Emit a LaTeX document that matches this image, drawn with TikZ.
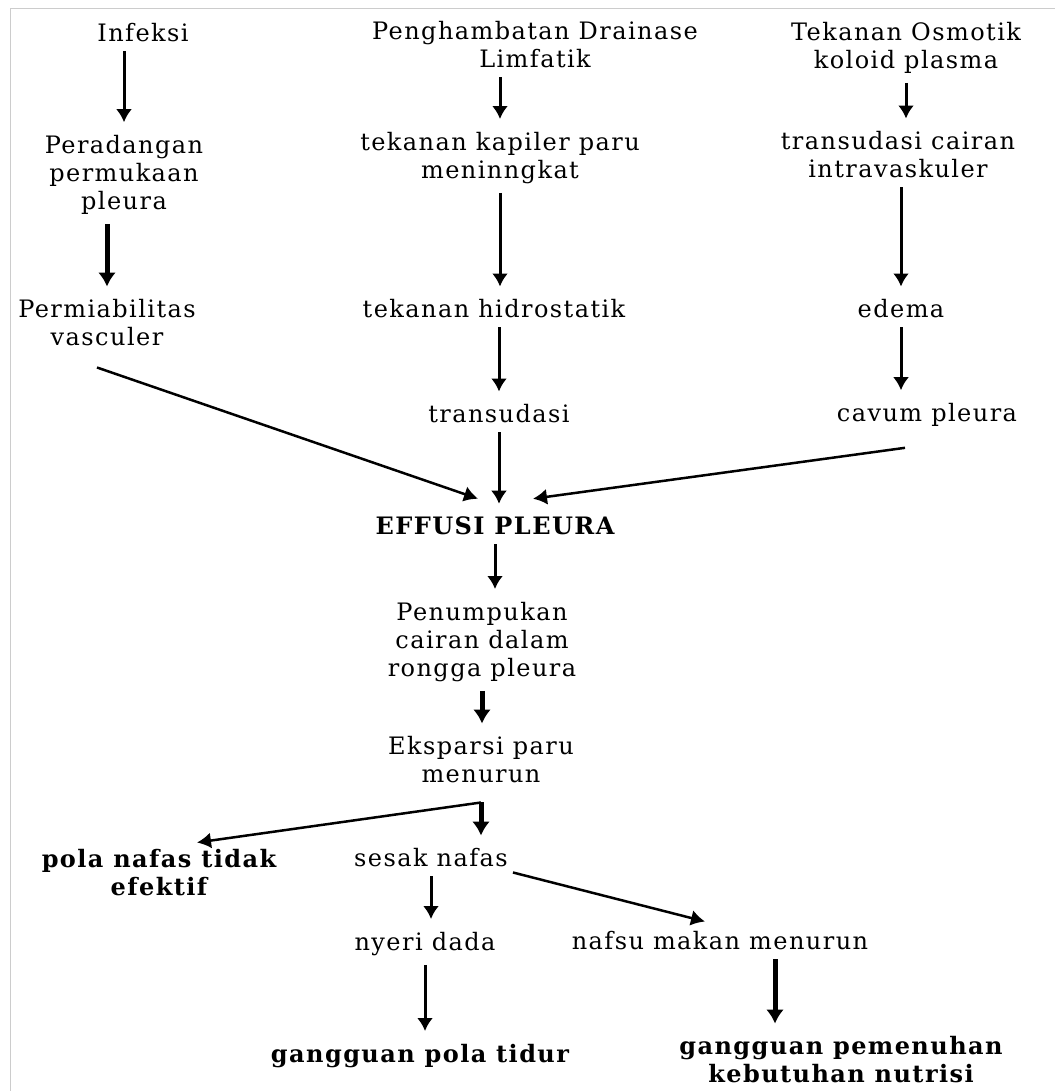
\documentclass[tikz,border=0pt]{standalone}
\usepackage{fontspec}
\setmainfont[LetterSpace=6]{DejaVu Serif}
\usetikzlibrary{arrows.meta}

\begin{document}
\begin{tikzpicture}[x=1pt, y=-1pt, t/.style={align=center, inner sep=5pt, font=\fontsize{24}{28}\selectfont}, b/.style={t, font=\fontsize{24}{28}\selectfont\bfseries}, n/.style={-{Latex[length=13pt, width=16pt]}, line width=3pt, shorten >=8pt, shorten <=4pt}, w/.style={-{Latex[length=14pt, width=18pt]}, line width=5pt, shorten >=8pt, shorten <=4pt}, d/.style={-{Latex[length=14pt, width=16pt]}, line width=2.5pt}]
        \useasboundingbox (0,0) rectangle (1055,1091);
        \draw[black!20, line width=1pt] (10,1091) -- (10,9) -- (1055,9);
        % nodes
        \node[t] (inf) at (143,33) {Infeksi};
        \node[t] (per) at (124,175) {Peradangan\\permukaan\\pleura};
        \node[t] (perm) at (107,323) {Permiabilitas\\vasculer};
        \node[t] (pdl) at (535,45) {Penghambatan Drainase\\Limfatik};
        \node[t] (tkp) at (500,158) {tekanan kapiler paru\\meninngkat};
        \node[t] (thid) at (494,309) {tekanan hidrostatik};
        \node[t] (trans) at (499,414) {transudasi};
        \node[t] (tom) at (906,48) {Tekanan Osmotik\\koloid plasma};
        \node[t] (tci) at (898,155) {transudasi cairan\\intravaskuler};
        \node[t] (ede) at (901,309) {edema};
        \node[t] (cav) at (927,415) {cavum pleura};
        \node[b] (eff) at (495,526) {EFFUSI PLEURA};
        \node[t] (pen) at (482,642) {Penumpukan\\cairan dalam\\rongga pleura};
        \node[t] (eks) at (481,760) {Eksparsi paru\\menurun};
        \node[b] (pol) at (159,873) {pola nafas tidak\\efektif};
        \node[t] (ses) at (431,858) {sesak nafas};
        \node[t] (nye) at (425,944) {nyeri dada};
        \node[t] (naf) at (720,941) {nafsu makan menurun};
        \node[b] (gpt) at (420,1056) {gangguan pola tidur};
        \node[b] (gpk) at (841,1060) {gangguan pemenuhan\\kebutuhan nutrisi};
        \coordinate (split) at ([yshift=-14pt]eks.south);
        % edges
        \draw[n] (per.north |- inf.south) -- (per.north);
        \draw[w] (perm.north |- per.south) -- (perm.north);
        \draw[n] (tkp.north |- pdl.south) -- (tkp.north);
        \draw[n] (tkp.south) -- (tkp.south |- thid.north);
        \draw[n] (trans.north |- thid.south) -- (trans.north);
        \draw[n] (trans.south) -- (trans.south |- eff.north);
        \draw[n] (tom.south) -- (tom.south |- tci.north);
        \draw[n] (ede.north |- tci.south) -- (ede.north);
        \draw[n] (ede.south) -- (ede.south |- cav.north);
        \draw[d] ([shift={(-10pt,-16pt)}]perm.south) -- ([shift={(-17pt,13pt)}]eff.north);
        \draw[d] ([shift={(-22pt,-16pt)}]cav.south) -- ([shift={(38pt,13pt)}]eff.north);
        \draw[n] (eff.south) -- (eff.south |- pen.north);
        \draw[w] (pen.south) -- (pen.south |- eks.north);
        \draw[w, shorten <=0pt] (split) -- (split |- ses.north);
        \draw[d] (split) -- ([shift={(38pt,2pt)}]pol.north);
        \draw[n] (ses.south) -- (ses.south |- nye.north);
        \draw[d] (ses.south east) -- ([shift={(-15pt,5pt)}]naf.north);
        \draw[n] (nye.south) -- (nye.south |- gpt.north);
        \draw[w] ([xshift=55pt]naf.south) -- ([xshift=55pt]naf.south |- gpk.north);
\end{tikzpicture}
\end{document}
